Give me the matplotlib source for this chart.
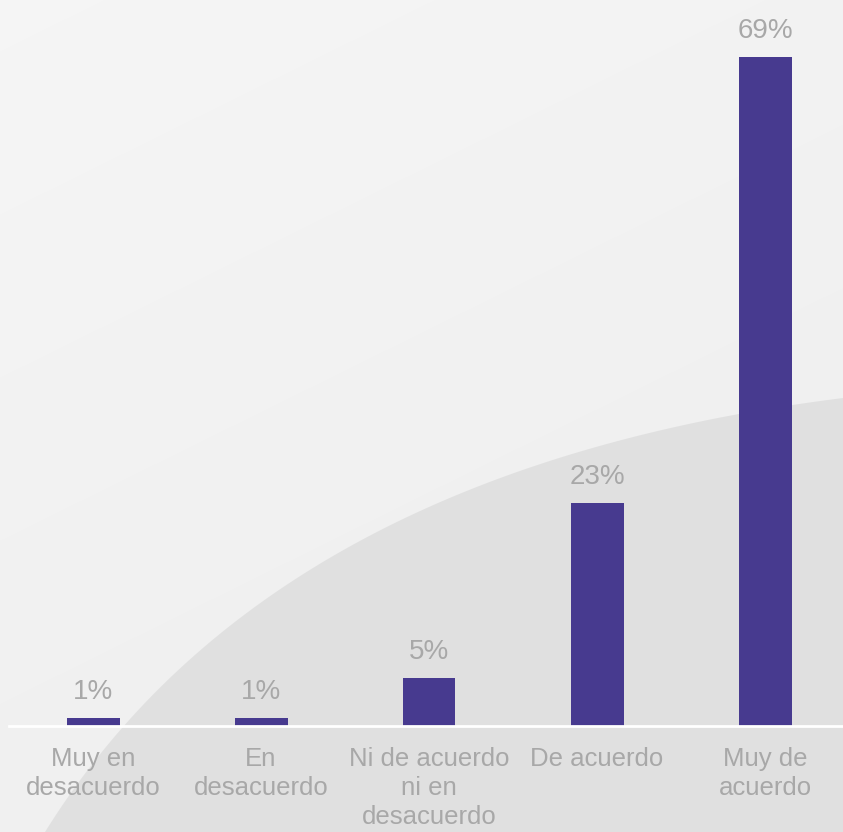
import numpy as np
import matplotlib
matplotlib.use("Agg")
import matplotlib.pyplot as plt

categories = ["Muy en\ndesacuerdo", "En\ndesacuerdo", "Ni de acuerdo\nni en\ndesacuerdo", "De acuerdo", "Muy de\nacuerdo"]
values = [0.8, 0.8, 4.9, 23.0, 69.0]
labels = ["1%", "1%", "5%", "23%", "69%"]

W, H = 843, 832
fig = plt.figure(figsize=(W / 100, H / 100), dpi=100)
plt.rcParams['font.family'] = ['Liberation Sans', 'DejaVu Sans']

# background
bg = fig.add_axes([0, 0, 1, 1], zorder=0)
bg.set_xlim(0, W)
bg.set_ylim(H, 0)
bg.axis("off")
yy, xx = np.mgrid[0:H, 0:W]
grad = 0.962 - 0.02 * (yy / H) - 0.01 * (xx / W)
bg.imshow(np.dstack([grad] * 3), extent=[0, W, H, 0], aspect="auto", interpolation="bilinear")
# smooth curved backdrop (quadratic Bezier)
t = np.linspace(0, 1, 200)
p0, p1, p2 = np.array([843, 398]), np.array([270, 470]), np.array([45, 832])
curve = ((1 - t) ** 2)[:, None] * p0 + (2 * (1 - t) * t)[:, None] * p1 + (t ** 2)[:, None] * p2
cx = list(curve[:, 0]) + [843]
cy = list(curve[:, 1]) + [832]
bg.fill(cx, cy, color="#DEDEDE", alpha=0.85, lw=0)

# main axes
left = 9 / W
width = 840 / W
bottom = (H - 726) / H
ymax = 75
height = ymax * 9.7 / H
ax = fig.add_axes([left, bottom, width, height], zorder=1)
ax.patch.set_alpha(0)
x = np.arange(len(categories))
ax.bar(x, values, width=53 / 168, color="#473A8F", zorder=2)
ax.set_xlim(-0.5, len(categories) - 0.5)
ax.set_ylim(0, ymax)
for s in ["top", "right", "left"]:
    ax.spines[s].set_visible(False)
ax.spines["bottom"].set_color("white")
ax.spines["bottom"].set_linewidth(2)
ax.set_yticks([])
ax.set_xticks(x)
ax.set_xticklabels(categories, fontsize=18.5, color="#A8A8A8", linespacing=1.27)
ax.tick_params(axis="x", length=0, pad=15)
for xi, v, lab in zip(x, values, labels):
    ax.annotate(lab, (xi, v), xytext=(0, 13.7), textcoords="offset points",
                ha="center", va="baseline", fontsize=20, color="#A8A8A8", clip_on=False)

fig.savefig("out.png", dpi=100)
